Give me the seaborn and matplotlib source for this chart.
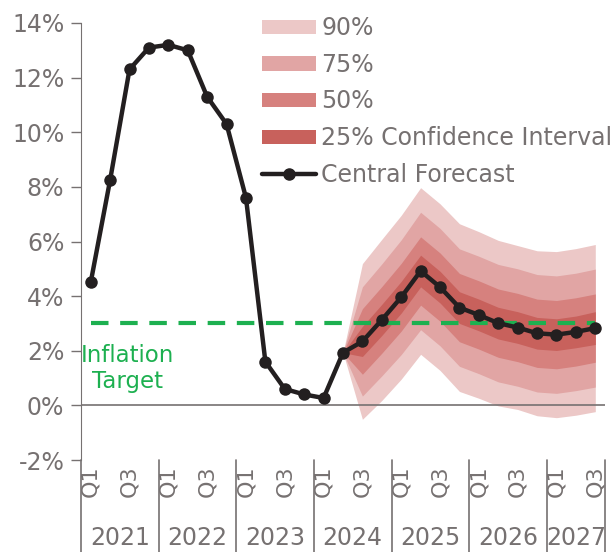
import numpy as np
import pandas as pd
import matplotlib
matplotlib.use('Agg')
import matplotlib.pyplot as plt
import matplotlib.transforms as mtransforms
from matplotlib.patches import Patch
from matplotlib.lines import Line2D
import seaborn as sns

sns.set_style('white')
plt.rcParams['font.family'] = ['DejaVu Sans']

# data
years = ['2021', '2022', '2023', '2024', '2025', '2026', '2027']
quarters = ['Q1', 'Q2', 'Q3', 'Q4']
central = [4.5, 8.25, 12.3, 13.1, 13.2, 13.0, 11.3, 10.3, 7.6, 1.6, 0.6, 0.4,
           0.27, 1.93, 2.34, 3.13, 3.96, 4.92, 4.33, 3.58, 3.31, 3.01, 2.85,
           2.64, 2.59, 2.69, 2.83]
fan_start = 13  # 2024 Q2, first quarter of the fan
# half widths of each band from fan_start to the end
band_90 = [0, 2.85, 2.95, 3.0, 3.05, 3.05, 3.07, 3.05, 3.03, 3.0, 3.02, 3.04, 3.05, 3.06]
band_75 = [0, 2.0, 2.05, 2.1, 2.15, 2.15, 2.15, 2.15, 2.15, 2.15, 2.15, 2.15, 2.15, 2.16]
band_50 = [0, 1.2, 1.22, 1.24, 1.25, 1.25, 1.25, 1.25, 1.25, 1.25, 1.25, 1.25, 1.25, 1.25]
band_25 = [0, 0.55, 0.57, 0.58, 0.58, 0.58, 0.58, 0.58, 0.58, 0.58, 0.58, 0.58, 0.58, 0.6]
target = 3.0

labels = [f'{y} {q}' for y in years for q in quarters][:len(central)]
df = pd.DataFrame({'t': np.arange(len(central)), 'label': labels, 'value': central})

grey = '#767171'
green = '#1db050'
bands = [(band_90, '#ecc8c7', '90%'),
         (band_75, '#e1a5a4', '75%'),
         (band_50, '#d6817e', '50%'),
         (band_25, '#c8615c', '25% Confidence Interval')]

fig = plt.figure(figsize=(6.15, 5.52), dpi=100)
ax = fig.add_axes([81 / 615, 1 - 460 / 552, 524 / 615, 437 / 552])

fc = df.iloc[fan_start:]
for w, col, lab in bands:
    w = np.array(w)
    ax.fill_between(fc['t'], fc['value'] - w, fc['value'] + w, color=col, lw=0, zorder=1)

ax.plot([0, len(central) - 1], [target, target], color=green, lw=3, ls=(0, (4.2, 2.8)), zorder=2)
ax.axhline(0, color=grey, lw=1.2, zorder=1.5)

sns.lineplot(data=df, x='t', y='value', color='#231f20', lw=3.2, marker='o',
             markersize=9, markeredgewidth=0, ax=ax, zorder=3)

ax.text(1.9, 1.35, 'Inflation\nTarget', color=green, fontsize=16.5, ha='center', va='center',
        linespacing=1.2)

ax.set_xlim(-0.5, len(central) - 0.5)
ax.set_ylim(-2, 14)
ax.set_yticks(range(-2, 15, 2))
ax.set_yticklabels([f'{v}%' for v in range(-2, 15, 2)])
ax.tick_params(axis='y', colors=grey, labelsize=17, length=7, width=1, left=True, pad=5)

qpos = [i for i, l in enumerate(labels) if l.endswith('Q1') or l.endswith('Q3')]
ax.set_xticks(qpos)
ax.set_xticklabels([labels[i].split()[1] for i in qpos], rotation=90)
ax.tick_params(axis='x', colors=grey, labelsize=16, length=0, pad=4)
ax.set_xlabel('')
ax.set_ylabel('')

for s in ['top', 'right', 'bottom']:
    ax.spines[s].set_visible(False)
ax.spines['left'].set_color(grey)

# year group separators and labels
trans = mtransforms.blended_transform_factory(ax.transData, ax.transAxes)
bounds = [-0.5]
for i, y in enumerate(years):
    n = sum(1 for l in labels if l.startswith(y))
    bounds.append(bounds[-1] + n)
for b in bounds:
    ax.plot([b, b], [0, -0.22], color=grey, lw=1.2, transform=trans, clip_on=False)
for i, y in enumerate(years):
    ax.text((bounds[i] + bounds[i + 1]) / 2, -0.178, y, transform=trans, ha='center',
            va='center', color=grey, fontsize=17)

handles = [Patch(facecolor=col, edgecolor='none', label=lab) for _, col, lab in bands]
handles.append(Line2D([0], [0], color='#231f20', lw=3.2, marker='o', markersize=8, label='Central Forecast'))
leg = fig.legend(handles=handles, loc='upper left', bbox_to_anchor=(262 / 615, 1 - 16 / 552),
                 frameon=False, fontsize=17, borderpad=0, borderaxespad=0, handlelength=2.3,
                 handleheight=0.55, handletextpad=0.2, labelspacing=0.54)
for t in leg.get_texts():
    t.set_color(grey)

fig.savefig('out.png', dpi=100)
